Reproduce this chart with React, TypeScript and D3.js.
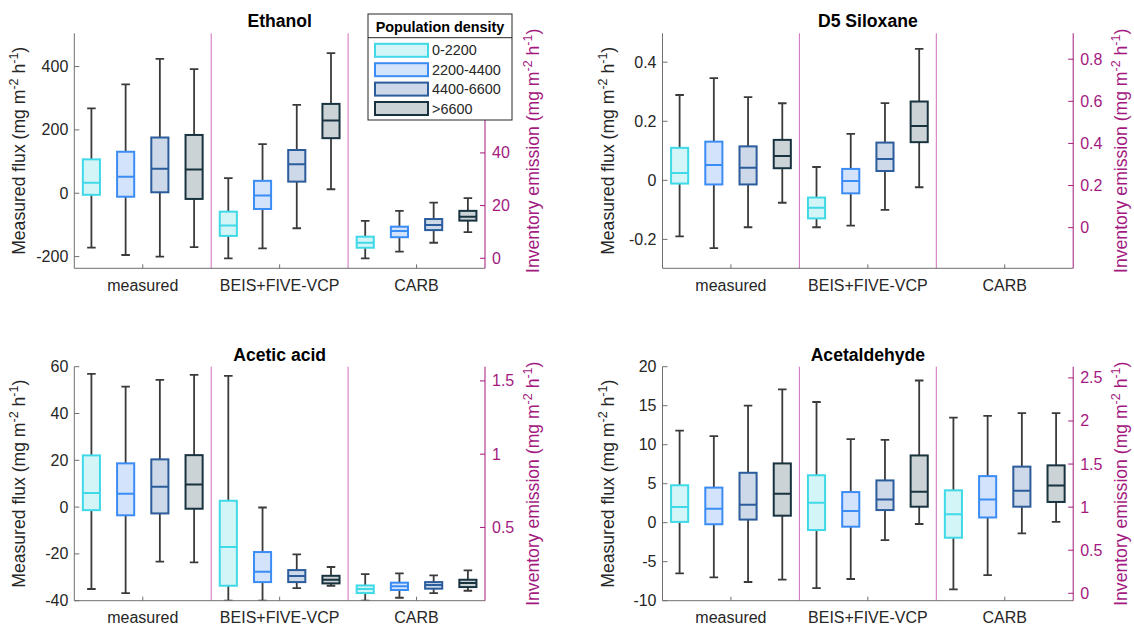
import React from "react";
import * as d3 from "d3";

// ---------- data ----------
const groups = ["measured", "BEIS+FIVE-VCP", "CARB"];
const densityClasses = ["0-2200", "2200-4400", "4400-6600", ">6600"];
const edgeColors = ["#3fd9e8", "#3b8cf4", "#2b5c9b", "#18333f"];
const fillColors = ["#d4f5f8", "#d3e3fb", "#cdd8e8", "#ccd3d6"];

// box stats: [lower whisker, Q1, median, Q3, upper whisker]
// measured -> left axis, inventories -> right axis
const ethanolMeasured = [
  [-172, -5, 33, 107, 268],
  [-195, -11, 52, 131, 344],
  [-200, 3, 77, 176, 424],
  [-170, -18, 75, 184, 392],
];
const ethanolBeis = [
  [0, 8.5, 12.4, 17.7, 30.4],
  [3.8, 18.7, 23.8, 29.4, 43.3],
  [11.4, 29.1, 35.7, 41.1, 58.2],
  [26.2, 45.6, 52.3, 58.6, 77.9],
];
const ethanolCarb = [
  [0, 4.0, 5.9, 8.2, 14.2],
  [2.5, 8.0, 10.4, 12.0, 18.0],
  [5.9, 10.7, 12.6, 14.9, 21.1],
  [9.9, 14.3, 15.8, 18.0, 22.8],
];

const d5Measured = [
  [-0.19, -0.011, 0.025, 0.11, 0.289],
  [-0.23, -0.014, 0.052, 0.131, 0.346],
  [-0.159, -0.014, 0.043, 0.115, 0.282],
  [-0.076, 0.041, 0.082, 0.137, 0.261],
];
const d5Beis = [
  [0.002, 0.044, 0.095, 0.143, 0.288],
  [0.01, 0.163, 0.222, 0.279, 0.445],
  [0.084, 0.269, 0.326, 0.404, 0.591],
  [0.192, 0.406, 0.483, 0.599, 0.849],
];
const d5Carb: number[][] = [];

const aceticMeasured = [
  [-35, -1.3, 6.0, 22.1, 56.9],
  [-36.8, -3.5, 5.7, 18.7, 51.5],
  [-23.3, -2.7, 8.7, 20.4, 54.4],
  [-23.6, -0.7, 9.7, 22.2, 56.5],
];
const aceticBeis = [
  [0, 0.102, 0.366, 0.682, 1.534],
  [0, 0.127, 0.198, 0.332, 0.636],
  [0.086, 0.127, 0.168, 0.209, 0.316],
  [0.102, 0.118, 0.143, 0.17, 0.23],
];
const aceticCarb = [
  [0, 0.052, 0.08, 0.104, 0.182],
  [0.02, 0.073, 0.098, 0.123, 0.186],
  [0.052, 0.082, 0.107, 0.127, 0.173],
  [0.068, 0.093, 0.12, 0.143, 0.207],
];

const acetaldehydeMeasured = [
  [-6.5, 0.1, 2.0, 4.8, 11.8],
  [-7.0, -0.2, 1.8, 4.5, 11.1],
  [-7.6, 0.4, 2.3, 6.4, 15.0],
  [-7.3, 0.9, 3.7, 7.6, 17.1],
];
const acetaldehydeBeis = [
  [0.06, 0.734, 1.05, 1.37, 2.22],
  [0.166, 0.773, 0.955, 1.175, 1.79],
  [0.618, 0.966, 1.09, 1.31, 1.78],
  [0.804, 1.005, 1.18, 1.6, 2.47],
];
const acetaldehydeCarb = [
  [0.046, 0.645, 0.916, 1.195, 2.04],
  [0.212, 0.88, 1.09, 1.36, 2.06],
  [0.696, 1.005, 1.19, 1.47, 2.09],
  [0.83, 1.06, 1.25, 1.485, 2.09],
];

const ethanolLeftTicks = [-200, 0, 200, 400];
const ethanolRightTicks = [0, 20, 40];
const d5LeftTicks = [-0.2, 0, 0.2, 0.4];
const d5RightTicks = [0, 0.2, 0.4, 0.6, 0.8];
const aceticLeftTicks = [-40, -20, 0, 20, 40, 60];
const aceticRightTicks = [0.5, 1, 1.5];
const acetaldehydeLeftTicks = [-10, -5, 0, 5, 10, 15, 20];
const acetaldehydeRightTicks = [0, 0.5, 1, 1.5, 2, 2.5];

// ---------- styling ----------
const FONT = "'Liberation Sans', Arial, Helvetica, sans-serif";
const TEXT = "#262626";
const AXIS = "#6f6f6f";
const MAGENTA = "#a3197f";
const DIVIDER = "#cf6fbf";
const WHISKER = "#3a3a3a";

const PW = 410.7;
const panels = [
  {
    id: "p1", title: "Ethanol", x: 74.3, y: 33.3, h: 235,
    left: [-237, 505] as [number, number], right: [-3.8, 85.4] as [number, number],
    leftTicks: ethanolLeftTicks, rightTicks: ethanolRightTicks,
    data: [ethanolMeasured, ethanolBeis, ethanolCarb],
  },
  {
    id: "p2", title: "D5 Siloxane", x: 662.5, y: 33.3, h: 235,
    left: [-0.298, 0.498] as [number, number], right: [-0.193, 0.923] as [number, number],
    leftTicks: d5LeftTicks, rightTicks: d5RightTicks,
    data: [d5Measured, d5Beis, d5Carb],
  },
  {
    id: "p3", title: "Acetic acid", x: 74.3, y: 366.7, h: 234,
    left: [-40, 60] as [number, number], right: [0, 1.597] as [number, number],
    leftTicks: aceticLeftTicks, rightTicks: aceticRightTicks,
    data: [aceticMeasured, aceticBeis, aceticCarb],
  },
  {
    id: "p4", title: "Acetaldehyde", x: 662.5, y: 366.7, h: 234,
    left: [-10, 20] as [number, number], right: [-0.086, 2.63] as [number, number],
    leftTicks: acetaldehydeLeftTicks, rightTicks: acetaldehydeRightTicks,
    data: [acetaldehydeMeasured, acetaldehydeBeis, acetaldehydeCarb],
  },
];

const offsets = [-0.375, -0.125, 0.125, 0.375];
const BOXW = 0.125;
const CAPW = 0.0625;

function UnitLabel({ prefix, x, y, color }: { prefix: string; x: number; y: number; color: string }) {
  return (
    <text
      transform={`translate(${x},${y}) rotate(-90)`}
      textAnchor="middle"
      fontFamily={FONT}
      fontSize={17.6}
      fill={color}
    >
      {prefix} (mg m
      <tspan baselineShift="super" fontSize={12.5}>-2</tspan>
      <tspan> h</tspan>
      <tspan baselineShift="super" fontSize={12.5}>-1</tspan>
      <tspan>)</tspan>
    </text>
  );
}

function Panel({ p }: { p: (typeof panels)[number] }) {
  const x = d3.scaleLinear().domain([0.5, 3.5]).range([p.x, p.x + PW]);
  const yL = d3.scaleLinear().domain(p.left).range([p.y + p.h, p.y]);
  const yR = d3.scaleLinear().domain(p.right).range([p.y + p.h, p.y]);
  const x0 = p.x, x1 = p.x + PW, y0 = p.y, y1 = p.y + p.h;
  const fmt = (v: number) => String(v);

  return (
    <g>
      <defs>
        <clipPath id={`clip-${p.id}`}>
          <rect x={x0} y={y0 - 1} width={PW} height={p.h + 1} />
        </clipPath>
      </defs>
      {[1.5, 2.5].map((v) => (
        <line key={v} x1={x(v)} x2={x(v)} y1={y0} y2={y1} stroke={DIVIDER} strokeWidth={1} />
      ))}
      <g clipPath={`url(#clip-${p.id})`}>
        {p.data.map((grp, gi) => {
          const ys = gi === 0 ? yL : yR;
          return grp.map((s, i) => {
            const cx = x(gi + 1 + offsets[i]);
            const bw = x(BOXW) - x(0);
            const cw = x(CAPW) - x(0);
            const [lo, q1, med, q3, hi] = s;
            return (
              <g key={`${gi}-${i}`}>
                <line x1={cx} x2={cx} y1={ys(hi)} y2={ys(q3)} stroke={WHISKER} strokeWidth={1.8} />
                <line x1={cx} x2={cx} y1={ys(q1)} y2={ys(lo)} stroke={WHISKER} strokeWidth={1.8} />
                <line x1={cx - cw / 2} x2={cx + cw / 2} y1={ys(hi)} y2={ys(hi)} stroke={WHISKER} strokeWidth={1.8} />
                <line x1={cx - cw / 2} x2={cx + cw / 2} y1={ys(lo)} y2={ys(lo)} stroke={WHISKER} strokeWidth={1.8} />
                <rect
                  x={cx - bw / 2}
                  y={ys(q3)}
                  width={bw}
                  height={ys(q1) - ys(q3)}
                  fill={fillColors[i]}
                  stroke={edgeColors[i]}
                  strokeWidth={2}
                />
                <line x1={cx - bw / 2} x2={cx + bw / 2} y1={ys(med)} y2={ys(med)} stroke={edgeColors[i]} strokeWidth={2} />
              </g>
            );
          });
        })}
      </g>
      <line x1={x0} x2={x0} y1={y0} y2={y1} stroke={AXIS} strokeWidth={1} />
      {p.leftTicks.map((t) => (
        <g key={`l${t}`}>
          <line x1={x0} x2={x0 + 5} y1={yL(t)} y2={yL(t)} stroke={AXIS} strokeWidth={1} />
          <text x={x0 - 6} y={yL(t)} textAnchor="end" dominantBaseline="central" fontFamily={FONT} fontSize={16} fill={TEXT}>
            {fmt(t)}
          </text>
        </g>
      ))}
      <line x1={x0} x2={x1} y1={y1} y2={y1} stroke={AXIS} strokeWidth={1} />
      {groups.map((g, gi) => (
        <g key={g}>
          <line x1={x(gi + 1)} x2={x(gi + 1)} y1={y1} y2={y1 - 4} stroke={AXIS} strokeWidth={1} />
          <text x={x(gi + 1)} y={y1 + 22.5} textAnchor="middle" fontFamily={FONT} fontSize={16} fill={TEXT}>
            {g}
          </text>
        </g>
      ))}
      <line x1={x1} x2={x1} y1={y0} y2={y1} stroke={MAGENTA} strokeWidth={1} />
      {p.rightTicks.map((t) => (
        <g key={`r${t}`}>
          <line x1={x1} x2={x1 - 5} y1={yR(t)} y2={yR(t)} stroke={MAGENTA} strokeWidth={1} />
          <text x={x1 + 7} y={yR(t)} textAnchor="start" dominantBaseline="central" fontFamily={FONT} fontSize={16} fill={MAGENTA}>
            {fmt(t)}
          </text>
        </g>
      ))}
      <UnitLabel prefix="Measured flux" x={x0 - 49} y={(y0 + y1) / 2} color={TEXT} />
      <UnitLabel prefix="Inventory emission" x={x1 + 54} y={(y0 + y1) / 2} color={MAGENTA} />
      <text x={(x0 + x1) / 2} y={y0 - 6} textAnchor="middle" fontFamily={FONT} fontSize={17.6} fontWeight="bold" fill="#000">
        {p.title}
      </text>
    </g>
  );
}

function Legend() {
  const lx = 368, ly = 14, lw = 144, lh = 106;
  return (
    <g>
      <rect x={lx} y={ly} width={lw} height={lh} fill="#fff" stroke="#262626" strokeWidth={1} />
      <line x1={lx} x2={lx + lw} y1={ly + 23.7} y2={ly + 23.7} stroke="#262626" strokeWidth={1} />
      <text x={lx + lw / 2} y={ly + 17.5} textAnchor="middle" fontFamily={FONT} fontSize={14.4} fontWeight="bold" fill="#000">
        Population density
      </text>
      {densityClasses.map((c, i) => {
        const cy = ly + 36.3 + i * 19.4;
        return (
          <g key={c}>
            <rect x={lx + 7} y={cy - 6.5} width={53} height={13} fill={fillColors[i]} stroke={edgeColors[i]} strokeWidth={2} />
            <text x={lx + 64} y={cy} dominantBaseline="central" fontFamily={FONT} fontSize={14.4} fill={TEXT}>
              {c}
            </text>
          </g>
        );
      })}
    </g>
  );
}

export default function App() {
  return (
    <svg width={1134} height={627} style={{ position: "absolute", left: 0, top: 0, background: "#fff" }}>
      <rect x={0} y={0} width={1134} height={627} fill="#fff" />
      {panels.map((p) => (
        <Panel key={p.id} p={p} />
      ))}
      <Legend />
    </svg>
  );
}
